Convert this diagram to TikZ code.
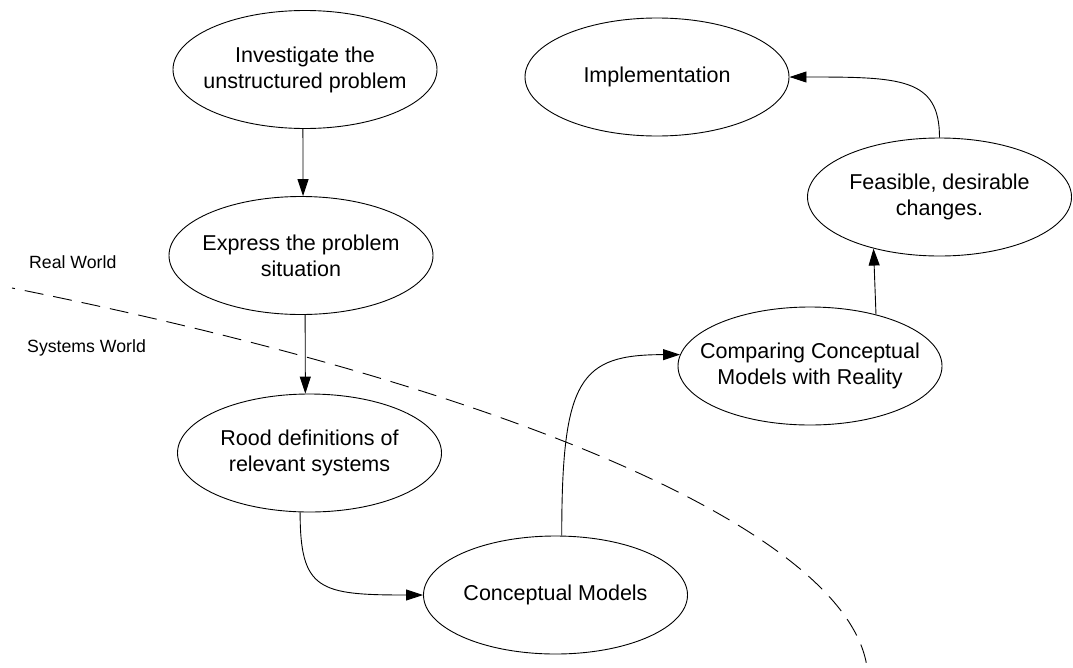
\documentclass[tikz,border=0pt]{standalone}
\usepackage{fontspec}
\setmainfont{Liberation Sans}
\usetikzlibrary{shapes.geometric,arrows.meta}

\tikzset{
  blob/.style={ellipse, draw=black, line width=0.9pt, minimum width=264pt,
               minimum height=118pt, inner sep=0pt, fill=white},
  txt/.style={align=center, font=\fontsize{21.5}{26}\selectfont, text=black},
  side/.style={font=\fontsize{17.7}{21}\selectfont, anchor=base west, inner sep=0pt},
  arr/.style={line width=0.9pt, -{Triangle[length=17pt,width=11pt]}},
  border/.style={line width=0.9pt, dash pattern=on 19pt off 10pt, dash phase=16pt},
}

\begin{document}
\begin{tikzpicture}[x=1pt, y=-1pt]
  \fill[white] (0,0) rectangle (1073,667);
  \useasboundingbox (0,0) rectangle (1073,667);
  \clip (0,0) rectangle (1073,667);

  % boundary between the real world and the systems world
  \coordinate (b0) at (12,288);
  \coordinate (b1) at (867,667);
  \draw[border] (b0) .. controls (512,388) and (846.75,532) .. (b1);

  \node[side] (rw) at (29,268) {Real World};
  \node[side] (sw) at (27,352) {Systems World};

  % stages
  \node[blob, label={[txt, name=invT]center:Investigate the\\unstructured problem}] (inv) at (305,69.5) {};
  \node[blob, label={[txt, name=exprT]center:Express the problem\\situation}] (expr) at (301,255.5) {};
  \node[blob, label={[txt, name=roodT]center:Rood definitions of\\relevant systems}] (rood) at (309.5,453) {};
  \node[blob, label={[txt, name=cmT]center:Conceptual Models}] (cm) at (555.5,595) {};
  \node[blob, label={[txt, name=cmpT]center:Comparing Conceptual\\Models with Reality}] (cmp) at (810,366) {};
  \node[blob, label={[txt, name=feasT]center:Feasible, desirable\\changes.}] (feas) at (939.5,197) {};
  \node[blob, label={[txt, name=implT]center:Implementation}] (impl) at (657,77) {};

  % flow
  \draw[arr] (inv.268) -- (expr.88);
  \draw[arr] (expr.274) -- (rood.94);
  \draw[arr] (rood.261) .. controls +(0,78) and +(-104,0) .. (cm.west);
  \draw[arr] (cm.84) .. controls +(0,-157) and +(-100,0) .. (cmp.175);
  \draw[arr] (cmp.38) -- (feas.218);
  \draw[arr] (feas.north) .. controls +(0,-60) and +(111,0) .. (impl.east);
\end{tikzpicture}
\end{document}
